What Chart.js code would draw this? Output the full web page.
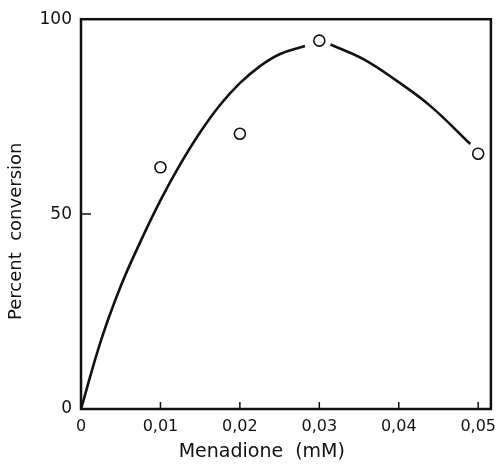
<!DOCTYPE html>
<html>
<head>
<meta charset="utf-8">
<script src="https://cdn.jsdelivr.net/npm/chart.js@4/dist/chart.umd.min.js"></script>
<style>
  html, body { margin: 0; padding: 0; background: #fff; }
  #wrap { width: 498px; height: 464px; }
</style>
</head>
<body>
<div id="wrap"><canvas id="c" width="498" height="464"></canvas></div>
<script>
// measured points (menadione mM -> percent conversion)
const pointX = [0.01, 0.02, 0.03, 0.05];
const pointY = [62, 70.6, 94.5, 65.5];

// hand-drawn fitted curve, broken where it meets the 0.03 circle (null = gap)
const curveX = [0, 0.0025, 0.005, 0.0075, 0.01, 0.0125, 0.015, 0.0175, 0.02, 0.0225, 0.025, 0.0282, 0.0298, 0.0314, 0.0356, 0.0398, 0.044, 0.049];
const curveY = [0, 17.5, 31.5, 43, 53.5, 62.8, 71, 78, 83.6, 87.9, 91, 93.1, null, 93.5, 89.7, 84.1, 77.7, 68];

const xTicks = [0, 0.01, 0.02, 0.03, 0.04, 0.05];
const yTicks = [0, 50, 100];

const FONT = 'DejaVu Sans';
const INK = '#111';

const toPts = (xs, ys) => xs.map((x, i) => ({ x, y: ys[i] }));
const fmtX = (v) => (v === 0 ? '0' : v.toFixed(2).replace('.', ','));
// trailing blanks nudge the centred axis titles off-centre, as in the original figure
const nudge = (s, n) => s + ' '.repeat(n);

// frame around the plot + inward tick marks
const frame = {
  id: 'frame',
  afterDraw(chart) {
    const { ctx, chartArea: a, scales } = chart;
    ctx.save();
    ctx.strokeStyle = INK;
    ctx.lineWidth = 2.5;
    ctx.strokeRect(a.left, a.top, a.right - a.left, a.bottom - a.top);
    ctx.lineWidth = 1.5;
    ctx.beginPath();
    xTicks.forEach((v) => {
      if (v === 0) return;
      const px = scales.x.getPixelForValue(v);
      ctx.moveTo(px, a.bottom); ctx.lineTo(px, a.bottom - 7);
    });
    yTicks.forEach((v) => {
      if (v === 0 || v === 100) return;
      const py = scales.y.getPixelForValue(v);
      ctx.moveTo(a.left, py); ctx.lineTo(a.left + 10, py);
    });
    ctx.stroke();
    ctx.restore();
  },
};

new Chart(document.getElementById('c'), {
  type: 'line',
  data: {
    datasets: [
      {
        label: 'fit',
        data: toPts(curveX, curveY),
        borderColor: INK,
        borderWidth: 2.6,
        pointRadius: 0,
        tension: 0.4,
        spanGaps: false,
        fill: false,
      },
      {
        label: 'measured',
        data: toPts(pointX, pointY),
        showLine: false,
        pointRadius: 5.5,
        pointBorderWidth: 1.6,
        pointBorderColor: INK,
        pointBackgroundColor: '#fff',
      },
    ],
  },
  options: {
    responsive: false,
    animation: false,
    layout: { padding: { top: 18, right: 7, left: 0, bottom: 0 } },
    plugins: { legend: { display: false }, tooltip: { enabled: false } },
    scales: {
      x: {
        type: 'linear',
        min: 0,
        max: 0.0516,
        afterBuildTicks: (s) => { s.ticks = xTicks.map((value) => ({ value })); },
        afterFit: (s) => { s.height = 55; s.paddingRight = 0; s.paddingLeft = 0; },
        grid: { display: false, drawTicks: false },
        border: { display: false },
        ticks: { color: INK, padding: 8, font: { family: FONT, size: 16 }, callback: fmtX, maxRotation: 0 },
        title: { display: true, text: nudge('Menadione  (mM)', 8), color: INK, font: { family: FONT, size: 19 }, padding: { top: 0, bottom: 1 } },
      },
      y: {
        min: 0,
        max: 100,
        afterBuildTicks: (s) => { s.ticks = yTicks.map((value) => ({ value })); },
        afterFit: (s) => { s.width = 81; },
        grid: { display: false, drawTicks: false },
        border: { display: false },
        ticks: { color: INK, padding: 9, font: { family: FONT, size: 17 } },
        title: { display: true, text: nudge('Percent  conversion', 6), color: INK, font: { family: FONT, size: 18 }, padding: { top: 6, bottom: 0 } },
      },
    },
  },
  plugins: [frame],
});
</script>
</body>
</html>
